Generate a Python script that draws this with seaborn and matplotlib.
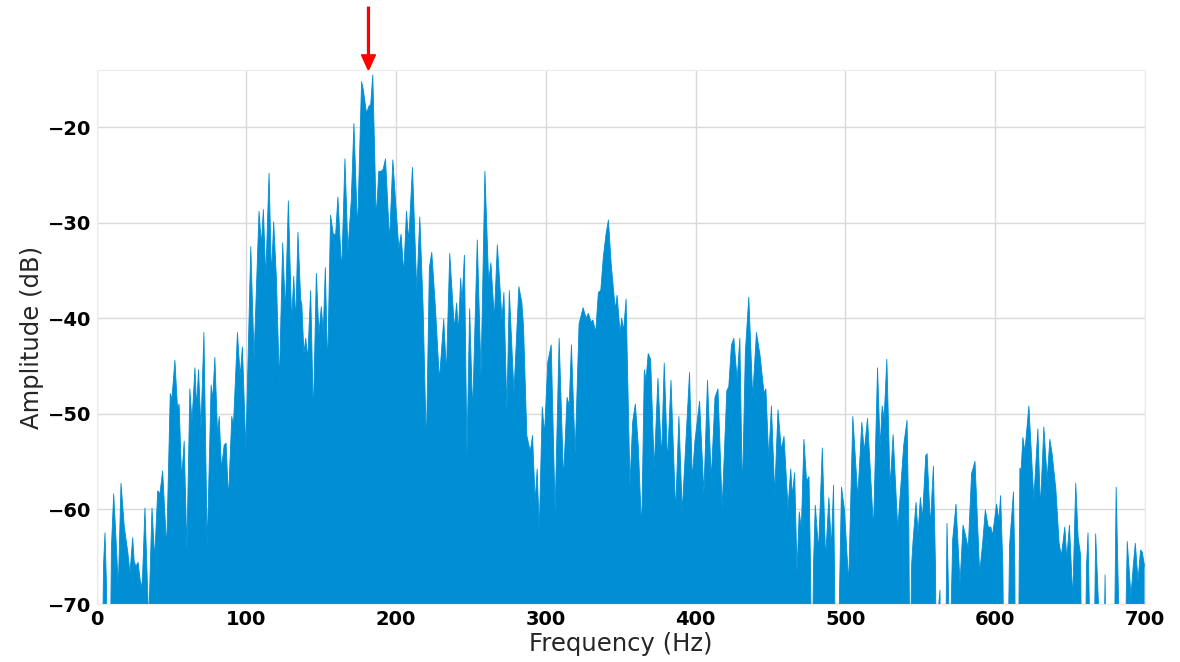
import numpy as np
import pandas as pd
import matplotlib
matplotlib.use("Agg")
import matplotlib.pyplot as plt
import seaborn as sns

# Spectrum samples: frequency (Hz) and amplitude (dB); values below the floor show as gaps
freq_hz = [
    0, 3.5, 4.5, 5.5, 6.5, 7.2, 8.8, 9.8, 11.3, 12.5, 14.4, 16.2, 18.4, 20.7, 22.2, 24,
    25, 26.2, 27.6, 29.6, 30.5, 32.2, 34.7, 36.9, 38.7, 40.7, 42.2, 44, 46.7, 49.1, 50.2,
    52.2, 54, 55, 56.7, 58.4, 60.2, 62.2, 63.6, 65.6, 66.7, 68, 69.6, 71.6, 73.8, 76.4,
    77.5, 78.9, 80.7, 81.8, 83.3, 85.1, 86.4, 88, 90.2, 91.3, 94, 95.8, 97.3, 99.6,
    102.9, 105.1, 108.4, 110, 111.3, 112.9, 115.1, 116.7, 118.2, 120, 122, 124.2, 126,
    128, 130.2, 131.6, 132.9, 134.4, 136.2, 137, 138.4, 139.6, 140.9, 142.9, 144.7,
    146.7, 148.4, 150, 151.3, 152.7, 154.2, 156.2, 158, 159.6, 161.1, 163.6, 165.8,
    167.8, 170, 171.8, 174.2, 176.9, 178, 180.2, 181.8, 183, 184.4, 186.7, 188.4, 190,
    191.3, 192.9, 195.6, 197.8, 199.6,
    201.8, 203.3, 205.1, 206.9, 208.4, 210.9, 213.8, 215.8, 218, 220.2, 222.2, 223.8,
    226.2, 228.9, 231.8, 233.6, 235.8, 238.9, 240.4, 241.6, 243.1, 244, 245.6, 247.3,
    249.1, 251.1, 254.2, 256.7, 259.3, 261.8, 263.3, 265.6, 267.6, 270.7, 272, 274,
    275.6, 278.7, 282, 284, 285.1, 287.3, 289.6, 291.1, 292.9, 294.2, 295.6, 297.6, 299.1,
    301.3, 303.6, 306.2, 308.9, 311.8, 314.2, 315.6, 317.1, 319.6, 322.2, 324.9, 326.9,
    328.4, 330.2, 331.5, 333.3, 335.1, 336.7, 338.4, 340.2, 341.8, 343.6, 344.9, 346.4,
    347.6, 349.6, 350.7, 352, 353.6, 356.2, 358, 359.8, 361.8, 364, 365.8, 366.9, 368.4,
    370, 372.4, 374.9, 377.3, 379.1, 381.3, 383.6, 386.7, 388.9, 391.1, 396, 397.8, 399.6,
    402.7, 405.6, 408, 410.5, 413, 415, 417.8, 420.9, 422.2, 424, 425.6, 427.8, 429.6,
    431.3, 433.3, 435.6, 438.2, 440.7, 443.1, 445.8, 447, 448.9, 450.7, 452.9, 455.1,
    457.3, 459.1, 461.8, 463.6, 464.7, 466.2, 467.8, 469.3, 470.7, 472.4, 474.2, 475.8,
    476.8, 477.8, 478.8, 480, 482.2, 484.7, 486.9, 489.1, 490.7, 492.2, 493.2, 494.5,
    495.8, 497.5, 499.5, 502.3,
    505.1, 508.4, 511.1, 512.7, 514.9, 518.9, 521.6, 523.3, 524.7, 526, 527.8, 530, 532,
    535.1, 539.1, 541.3, 542.5, 543.3, 544.3, 545.3, 547.3, 548.7, 550.2, 551.6, 553.8,
    554.7, 556.9, 558.9, 560.3, 561, 562.5, 563.3, 564, 566.8, 568, 569.2, 570, 570.8,
    571.8, 574, 576.7, 578.7, 580, 582.2, 584.4, 586.7, 589.8, 591.8, 593.6, 595.6,
    597.3, 598.4, 601.1, 602.7, 603.8,
    605.3, 606.2, 608.4, 609.8, 612.4, 613.3, 613.8, 615.6, 616.7, 617.5, 618.7, 620,
    622.7, 626, 628.7, 630.4, 632.7, 634.9, 636.7, 638.2, 640.7, 642.9, 644.4, 646.7,
    648, 649.8, 652, 654, 655.6, 657.3, 658, 660, 661.2, 662.2, 663.3, 664, 666, 667.3,
    669.1, 669.8, 672.5, 673.6, 674.5, 679.5, 681, 682.6, 683.4, 686.5, 688.4, 690.9,
    692.4, 693.8, 695.6, 697.3, 698.4, 700,
]

amplitude_db = [
    -80, -80, -66, -62.5, -68, -80, -80, -64, -58.4, -62, -68.2, -57.3, -61.9, -64.5, -66.7, -63,
    -65.5, -66, -65.6, -68.2, -67.5, -59.9, -72, -59.9, -65.2, -58.1, -58.4, -56, -64.1, -47.9, -48.5,
    -44.4, -49.6, -49, -56.9, -52.9, -64.3, -47.4, -50.9, -45.2, -49.4, -45.4, -51.6, -41.5, -64.1, -47,
    -48.5, -44.1, -52.2, -50.3, -55.8, -53.3, -53.1, -59, -50.3, -51.3, -41.5, -46.1, -43, -53.8,
    -32.5, -44.1, -28.8, -32.3, -28.6, -35.8, -24.8, -35.6, -29.9, -35.8, -46.7, -32.1, -39.3,
    -27.7, -40.4, -35.6, -40.4, -31, -38, -38.6, -43.7, -42.1, -44.3, -37.1, -50.3,
    -35.3, -41.7, -38.8, -41.5, -34.7, -45.4, -29.2, -31.2, -31.2, -27.3, -35.1, -23.3,
    -32.9, -27.7, -19.6, -30.8, -15.2, -16, -18.5, -17.8, -17.6, -14.5, -29.6, -24.6, -24.6,
    -24.4, -23.3, -31.9, -23.4, -27.7,
    -32.7, -31.2, -35.3, -28.8, -31.9, -24.2, -37.1, -29.4, -38.8, -53.5, -34.7, -33.1,
    -38.8, -46.5, -40.1, -45.7, -33.2, -41.1, -38.4, -41.5, -35.8, -38.4, -33.4, -54.2,
    -39, -49.9, -31.8, -45.9, -24.6, -36.2, -34.2, -40, -32.3, -40.1, -37.3, -49.8,
    -37.1, -47.8, -36.7, -38.4, -40.9, -52.3, -54, -52.3, -59.2, -55.8, -62.3, -49.3, -52.2,
    -44.6, -42.8, -60.3, -42.1, -56.9, -48.3, -49.2, -42.8, -54.2, -40.6, -38.9, -40,
    -39.5, -40.4, -40.2, -41.5, -37.3, -37.1, -33.6, -31.2, -29.7, -34.2, -36.5, -39.1,
    -37.6, -41.5, -40, -41.3, -38, -57.5, -50.9, -49, -53.5, -62.3, -45.4, -46.5, -43.7,
    -44.3, -55.8, -46.3, -54.7, -44.7, -55.1, -46.5, -60.3, -50.3, -60.3, -45.7, -56.9, -52.9,
    -48.7, -58.4, -46.5, -56.9, -48.3, -47.4, -59.9, -47.6, -47.2, -42.8, -42.1, -46.5, -42.1,
    -58.4, -43.5, -37.8, -48.3, -41.5, -43.9, -47.9, -47.4, -54.7, -49.2, -58.4, -49.6,
    -53.8, -52.4, -59.9, -55.8, -58.6, -56.2, -66.5, -60.3, -62.1, -52.7, -57.1, -56.6,
    -66, -80, -66, -59.6, -64.3, -53.6, -65.2, -58.8, -64.1, -57.5, -72, -80,
    -72, -57.7, -60.1, -67.8,
    -50.3, -58.8, -50.9, -54, -50.5, -62.1, -45.2, -53.5, -49.2, -50.5, -44.3, -57.7, -52.2,
    -62.1, -53.3, -50.7, -62, -80, -66, -63.4, -59.3, -62.6, -58.8, -61, -54.4,
    -54.2, -61.7, -55.5, -66, -80, -70, -68.5, -80, -80, -61.5, -70, -80, -70,
    -63.2, -59.5, -67.8, -61.7, -62.5, -64.1, -56.3, -55, -66.7, -63.6, -60.1, -61.9,
    -61.9, -62.8, -59.5, -61.2, -58.6,
    -66, -80, -80, -63.8, -58.2, -66, -80, -80, -55.7, -56, -52.5, -54,
    -49.2, -59, -51.6, -59.9, -51.4, -56.9, -52.7, -54.2, -57.9, -63.6, -64.9, -61.9,
    -65.2, -61.7, -69.4, -57.3, -63, -64.9, -80, -80, -66, -62.5, -72, -80, -80, -62.6,
    -69.6, -80, -80, -66.9, -80, -80, -57.7, -69.6, -80, -80, -63.4, -69.1,
    -66, -63.6, -67.5, -64.3, -64.5, -66,
]

x_ticks = [0, 100, 200, 300, 400, 500, 600, 700]
y_ticks = [-70, -60, -50, -40, -30, -20]
peak_marker_hz = 181.5

spectrum = pd.DataFrame({"Frequency (Hz)": freq_hz, "Amplitude (dB)": amplitude_db})

fill_color = "#008fd5"

sns.set_style("whitegrid", {
    "axes.edgecolor": "#ececec",
    "axes.linewidth": 3,
    "grid.color": "#d9d9d9",
    "axes.facecolor": "white",
})
plt.rcParams["font.family"] = ["DejaVu Sans"]

fig, ax = plt.subplots(figsize=(11.8, 6.62), dpi=100)
fig.subplots_adjust(left=0.082, right=0.970, top=0.894, bottom=0.087)

sns.lineplot(data=spectrum, x="Frequency (Hz)", y="Amplitude (dB)", ax=ax,
             color=fill_color, linewidth=0.6, zorder=3)
ax.fill_between(spectrum["Frequency (Hz)"], spectrum["Amplitude (dB)"], -100,
                color=fill_color, linewidth=0, zorder=3)

ax.set_xlim(0, 700)
ax.set_ylim(-70, -14)
ax.set_xticks(x_ticks)
ax.set_yticks(y_ticks)
ax.set_xticklabels([str(t) for t in x_ticks])
ax.set_yticklabels([f"\u2212{abs(t)}" for t in y_ticks])
ax.tick_params(axis="both", labelsize=14, length=0, pad=4, labelcolor="black")
for lab in ax.get_xticklabels() + ax.get_yticklabels():
    lab.set_fontweight("bold")
ax.set_xlabel("Frequency (Hz)", fontsize=17.5, labelpad=2.5)
ax.set_ylabel("Amplitude (dB)", fontsize=17.5, labelpad=2.5)
ax.grid(True, linewidth=1.0)
for spine in ax.spines.values():
    spine.set_zorder(4)

# Arrow marking the dominant peak
ax.annotate("", xy=(peak_marker_hz, -14), xytext=(peak_marker_hz, -7.4),
            annotation_clip=False,
            arrowprops=dict(facecolor="red", edgecolor="red", width=1.3,
                            headwidth=10, headlength=11))

fig.savefig("out.png", dpi=100)
